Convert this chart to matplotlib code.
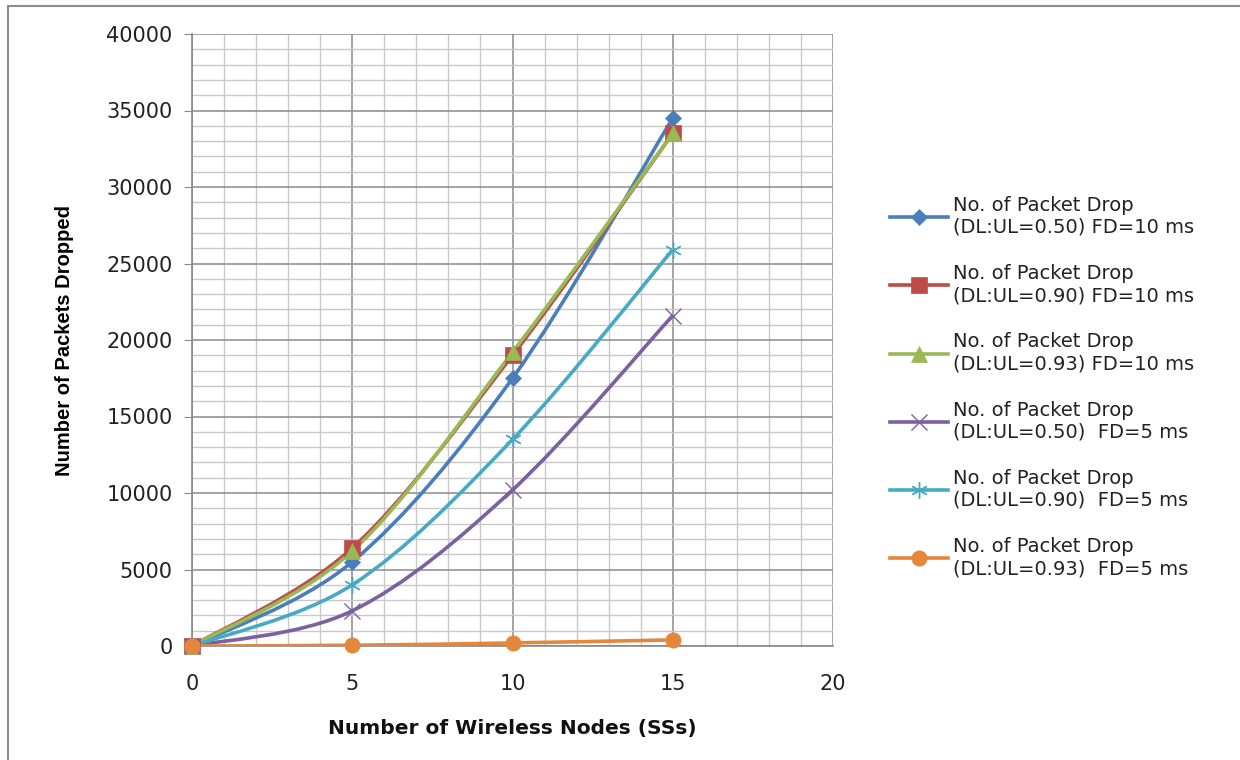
import numpy as np
import matplotlib
matplotlib.use("Agg")
import matplotlib.pyplot as plt
from matplotlib.path import Path
from matplotlib.patches import PathPatch, Rectangle
from matplotlib.lines import Line2D
from matplotlib.ticker import MultipleLocator

# data
nodes = [0, 5, 10, 15]
drop_050_fd10 = [0, 5500, 17500, 34500]
drop_090_fd10 = [0, 6400, 19000, 33500]
drop_093_fd10 = [0, 6200, 19200, 33500]
drop_050_fd5 = [0, 2300, 10200, 21600]
drop_090_fd5 = [0, 4000, 13500, 25900]
drop_093_fd5 = [0, 50, 200, 400]

labels = [
    "No. of Packet Drop\n(DL:UL=0.50) FD=10 ms",
    "No. of Packet Drop\n(DL:UL=0.90) FD=10 ms",
    "No. of Packet Drop\n(DL:UL=0.93) FD=10 ms",
    "No. of Packet Drop\n(DL:UL=0.50)  FD=5 ms",
    "No. of Packet Drop\n(DL:UL=0.90)  FD=5 ms",
    "No. of Packet Drop\n(DL:UL=0.93)  FD=5 ms",
]
series = [drop_050_fd10, drop_090_fd10, drop_093_fd10,
          drop_050_fd5, drop_090_fd5, drop_093_fd5]
colors = ["#4A7EBB", "#BE4B48", "#98B954", "#7D60A0", "#46AAC5", "#E5873B"]
markers = ["D", "s", "^", "x", (6, 2, 0), "o"]
msizes = [8, 11, 11, 12, 12, 11]


def smooth_path(x, y):
    # excel style smoothed line: bezier segments, catmull-rom control points
    p = np.column_stack([x, y]).astype(float)
    verts = [p[0]]
    codes = [Path.MOVETO]
    n = len(p)
    for i in range(n - 1):
        p0 = p[i - 1] if i > 0 else p[i]
        p3 = p[i + 2] if i + 2 < n else p[i + 1]
        c1 = p[i] + (p[i + 1] - p0) / 6.0
        c2 = p[i + 1] - (p3 - p[i]) / 6.0
        verts += [c1, c2, p[i + 1]]
        codes += [Path.CURVE4] * 3
    return Path(verts, codes)


fig = plt.figure(figsize=(12.4, 7.6), dpi=100)
ax = fig.add_axes([192 / 1240, 1 - 646 / 760, (833 - 192) / 1240, (646 - 34) / 760])

ax.set_xlim(0, 20)
ax.set_ylim(0, 40000)
ax.xaxis.set_major_locator(MultipleLocator(5))
ax.xaxis.set_minor_locator(MultipleLocator(1))
ax.yaxis.set_major_locator(MultipleLocator(5000))
ax.yaxis.set_minor_locator(MultipleLocator(1000))
ax.grid(which="minor", color="#C8C8C8", lw=1.0)
ax.grid(which="major", color="#939393", lw=1.2)
ax.set_axisbelow(True)
for s in ["top", "right"]:
    ax.spines[s].set_visible(False)
for s in ["left", "bottom"]:
    ax.spines[s].set_color("#888888")
    ax.spines[s].set_linewidth(1.2)
ax.tick_params(axis="y", which="major", length=6, color="#888888", labelsize=15,
               pad=8, labelcolor="#222222")
ax.tick_params(axis="x", which="major", length=0, labelsize=15, pad=20,
               labelcolor="#222222")
ax.tick_params(which="minor", length=0)

handles = []
for ys, c, m, ms, lab in zip(series, colors, markers, msizes, labels):
    ax.add_patch(PathPatch(smooth_path(nodes, ys), facecolor="none",
                           edgecolor=c, lw=2.6, zorder=3))
    thin = m == "x" or isinstance(m, tuple)
    mew = 1.0 if thin else 0.5
    ax.plot(nodes, ys, ls="none", marker=m, ms=ms, color=c, mec=c,
            mew=mew, zorder=4, clip_on=False)
    handles.append(Line2D([], [], color=c, lw=2.6, marker=m, ms=ms, mew=mew))

ax.set_ylabel("Number of Packets Dropped", fontsize=14.5, fontweight="bold",
              family=["Liberation Sans", "DejaVu Sans"], labelpad=23)
ax.set_xlabel("Number of Wireless Nodes (SSs)", fontsize=14.5, fontweight="bold",
              family="DejaVu Sans", labelpad=18, color="#111111")

fig.legend(handles, labels, loc="center left", bbox_to_anchor=(872 / 1240, 1 - 387 / 760),
           frameon=False, handlelength=3.0, handletextpad=0.25,
           labelspacing=1.4, prop={"family": "DejaVu Sans", "size": 14},
           labelcolor="#222222")

fig.patches.append(Rectangle((8 / 1240, -0.05), 1.1, 0.05 + 1 - 6 / 760,
                             transform=fig.transFigure, fill=False,
                             edgecolor="#8C8C8C", lw=1.5))

fig.savefig("out.png", dpi=100)
